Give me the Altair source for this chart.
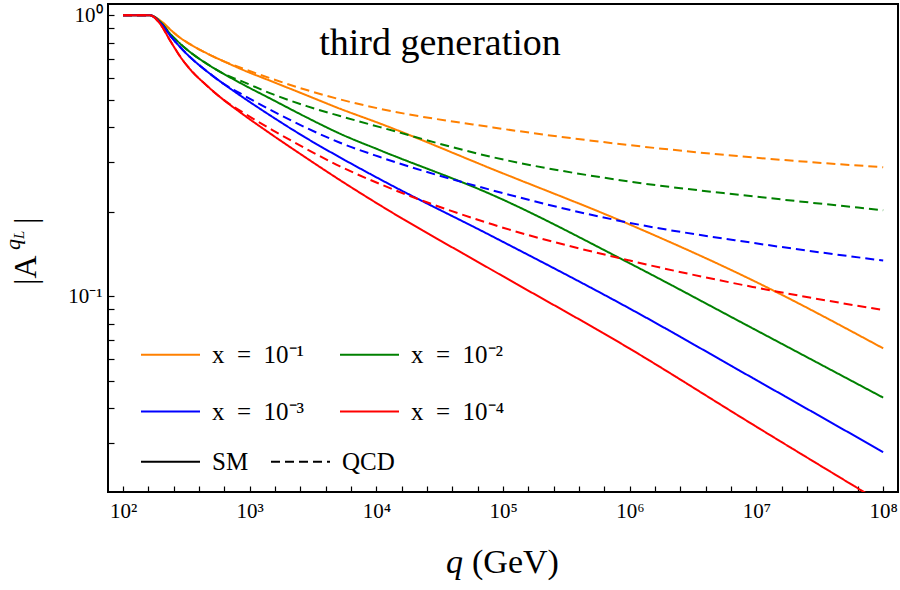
import altair as alt
import pandas as pd

# ---------------- data ----------------
q_gev = [100, 163, 196, 235, 282, 338, 457, 619, 838, 1535, 2818, 5164,
         10670, 83200, 1.0e6, 9.33e6, 1.0e8]

orange_sm = [1.0, 1.0, 0.959, 0.891, 0.832, 0.789, 0.733, 0.687, 0.646, 0.579, 0.519, 0.465,
             0.412, 0.283, 0.180, 0.114, 0.0653]
orange_qcd = [1.0, 1.0, 0.959, 0.891, 0.832, 0.789, 0.733, 0.687, 0.652, 0.592, 0.542, 0.502,
              0.465, 0.399, 0.345, 0.312, 0.288]
green_sm = [1.0, 1.0, 0.950, 0.860, 0.793, 0.740, 0.673, 0.620, 0.575, 0.499, 0.433, 0.379,
            0.331, 0.229, 0.131, 0.0769, 0.0436]
green_qcd = [1.0, 1.0, 0.950, 0.860, 0.793, 0.740, 0.673, 0.620, 0.586, 0.523, 0.475, 0.438,
             0.400, 0.3125, 0.256, 0.227, 0.2025]
blue_sm = [1.0, 1.0, 0.942, 0.848, 0.771, 0.710, 0.633, 0.571, 0.519, 0.433, 0.365, 0.312,
           0.261, 0.163, 0.0904, 0.0512, 0.0279]
blue_qcd = [1.0, 1.0, 0.942, 0.848, 0.771, 0.710, 0.633, 0.571, 0.528, 0.455, 0.397, 0.352,
            0.313, 0.238, 0.1825, 0.155, 0.134]
red_sm = [1.0, 1.0, 0.933, 0.814, 0.714, 0.643, 0.563, 0.501, 0.452, 0.373, 0.310, 0.259,
          0.211, 0.1235, 0.0651, 0.0350, 0.0183]
red_qcd = [1.0, 1.0, 0.933, 0.814, 0.714, 0.643, 0.563, 0.501, 0.458, 0.389, 0.334, 0.290,
           0.251, 0.180, 0.134, 0.108, 0.0893]

x_values = ["x\u2002=\u200210⁻¹", "x\u2002=\u200210⁻²", "x\u2002=\u200210⁻³", "x\u2002=\u200210⁻⁴"]
line_colors = ["#FF8000", "#008000", "#0000FF", "#FF0000"]
series_types = ["SM", "QCD"]

x_tick_values = [10 ** (2 + 0.2 * k) for k in range(31)]
y_tick_values = [0.03, 0.04, 0.05, 0.06, 0.07, 0.08, 0.09,
                 0.1, 0.2, 0.3, 0.4, 0.5, 0.6, 0.7, 0.8, 0.9, 1.0]

chart_title = "third generation"

# ---------------- table ----------------
rows = []
for lab, sm, qcd in zip(x_values,
                        [orange_sm, green_sm, blue_sm, red_sm],
                        [orange_qcd, green_qcd, blue_qcd, red_qcd]):
    for qq, a in zip(q_gev, sm):
        rows.append({"q": qq, "A": a, "x": lab, "type": "SM"})
    for qq, a in zip(q_gev, qcd):
        rows.append({"q": qq, "A": a, "x": lab, "type": "QCD"})
df = pd.DataFrame(rows)

# legend lays entries out column by column: order so rows read 10^-1,10^-2 / 10^-3,10^-4
legend_order = [0, 2, 1, 3]
color_domain = [x_values[i] for i in legend_order]
color_range = [line_colors[i] for i in legend_order]

FONT = "Liberation Serif"
W, H = 790, 488

x_label_expr = ("abs(log(datum.value)/LN10 - round(log(datum.value)/LN10)) < 0.01 ? "
                "'10' + substring('⁰¹²³⁴⁵⁶⁷⁸⁹', round(log(datum.value)/LN10), "
                "round(log(datum.value)/LN10) + 1) : ''")
y_label_expr = ("abs(datum.value - 1) < 1e-6 ? '10⁰' : "
                "(abs(datum.value - 0.1) < 1e-9 ? '10⁻¹' : '')")

lines = alt.Chart(df).mark_line(strokeWidth=2, clip=True, interpolate="monotone").encode(
    x=alt.X("q:Q",
            scale=alt.Scale(type="log", domain=[76.1, 1.309e8], nice=False),
            axis=alt.Axis(values=x_tick_values, labelExpr=x_label_expr, title=None,
                          offset=-6, tickSize=6, tickWidth=1.2, tickColor="black",
                          domain=False, grid=False, labelOverlap=False, labelFlush=False,
                          labelFont=FONT, labelFontSize=21, labelColor="black",
                          labelPadding=8)),
    y=alt.Y("A:Q",
            scale=alt.Scale(type="log", domain=[0.02012, 1.097], nice=False),
            axis=alt.Axis(values=y_tick_values, labelExpr=y_label_expr, title=None,
                          offset=-6, tickSize=6, tickWidth=1.2, tickColor="black",
                          domain=False, grid=False, labelOverlap=False, labelFlush=False,
                          labelFont=FONT, labelFontSize=21, labelColor="black",
                          labelPadding=6)),
    color=alt.Color("x:N",
                    scale=alt.Scale(domain=color_domain, range=color_range),
                    legend=alt.Legend(title=None, orient="none", legendX=32, legendY=320,
                                      columns=2, columnPadding=31, rowPadding=13,
                                      symbolType="stroke", symbolSize=3481,
                                      symbolStrokeWidth=2, labelFont=FONT,
                                      labelFontSize=25, labelColor="black",
                                      labelOffset=11, padding=0)),
    strokeDash=alt.StrokeDash("type:N",
                              scale=alt.Scale(domain=series_types, range=[[1, 0], [9, 5]]),
                              legend=alt.Legend(title=None, orient="none", legendX=32,
                                                legendY=427, direction="horizontal",
                                                columnPadding=18, symbolType="stroke",
                                                symbolSize=3481, symbolStrokeWidth=2,
                                                symbolStrokeColor="black",
                                                labelFont=FONT, labelFontSize=25,
                                                labelColor="black", labelOffset=11,
                                                padding=0)),
)

title_text = alt.Chart(pd.DataFrame({"t": [chart_title]})).mark_text(
    font=FONT, fontSize=38, color="black", align="center", baseline="alphabetic"
).encode(text="t:N", x=alt.value(332), y=alt.value(51))

# x-axis title: italic q + (GeV)
xq = alt.Chart(pd.DataFrame({"t": ["q"]})).mark_text(
    font=FONT, fontSize=34, fontStyle="italic", color="black", align="left",
    baseline="alphabetic").encode(text="t:N", x=alt.value(338), y=alt.value(569))
xgev = alt.Chart(pd.DataFrame({"t": ["(GeV)"]})).mark_text(
    font=FONT, fontSize=34, color="black", align="left",
    baseline="alphabetic").encode(text="t:N", x=alt.value(364), y=alt.value(569))

# y-axis title |A^{q_L}| (rotated)
ya = alt.Chart(pd.DataFrame({"t": ["|A"]})).mark_text(
    font=FONT, fontSize=32, color="black", align="left", baseline="alphabetic",
    angle=270).encode(text="t:N", x=alt.value(-72), y=alt.value(281))
yq = alt.Chart(pd.DataFrame({"t": ["q"]})).mark_text(
    font=FONT, fontSize=22, fontStyle="italic", color="black", align="left",
    baseline="alphabetic", angle=270).encode(text="t:N", x=alt.value(-88), y=alt.value(246))
yl = alt.Chart(pd.DataFrame({"t": ["L"]})).mark_text(
    font=FONT, fontSize=15, fontStyle="italic", color="black", align="left",
    baseline="alphabetic", angle=270).encode(text="t:N", x=alt.value(-84), y=alt.value(235))
ybar = alt.Chart(pd.DataFrame({"t": ["|"]})).mark_text(
    font=FONT, fontSize=32, color="black", align="left", baseline="alphabetic",
    angle=270).encode(text="t:N", x=alt.value(-72), y=alt.value(220))

chart = alt.layer(lines, title_text, xq, xgev, ya, yq, yl, ybar).properties(
    width=W, height=H,
    autosize=alt.AutoSizeParams(type="none"),
    padding={"left": 108, "top": 4, "right": 2, "bottom": 98},
    background="white",
).configure_view(stroke="black", strokeWidth=2)

chart.save("out.html", embed_options={"renderer": "svg", "actions": False})
